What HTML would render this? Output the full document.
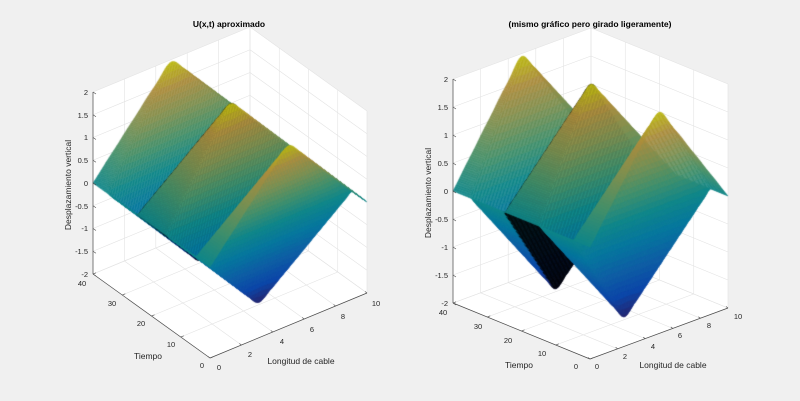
<!DOCTYPE html>
<html><head><meta charset="utf-8"><style>
html,body{margin:0;padding:0;background:#f0f0f0;}
#wrap{position:relative;width:800px;height:401px;overflow:hidden;}
svg,canvas{position:absolute;left:0;top:0;}
text{font-family:"Liberation Sans",Arial,sans-serif;fill:#262626;}
.tk{font-size:7.5px;}
.lb{font-size:8.5px;}
.tt{font-size:8.5px;font-weight:bold;fill:#000;}
</style></head><body><div id="wrap">
<svg id="bg" width="800" height="401"><g id="grid"></g></svg>
<canvas id="cv" width="800" height="401"></canvas>
<svg id="fg" width="800" height="401"><g id="axes"></g>
<text class="tt" x="229" y="27" text-anchor="middle">U(x,t) aproximado</text>
<text class="tk" x="88" y="95" text-anchor="end">2</text>
<text class="tk" x="88" y="118" text-anchor="end">1.5</text>
<text class="tk" x="88" y="140" text-anchor="end">1</text>
<text class="tk" x="88" y="163" text-anchor="end">0.5</text>
<text class="tk" x="88" y="186" text-anchor="end">0</text>
<text class="tk" x="88" y="209" text-anchor="end">-0.5</text>
<text class="tk" x="88" y="231" text-anchor="end">-1</text>
<text class="tk" x="88" y="254" text-anchor="end">-1.5</text>
<text class="tk" x="88" y="277" text-anchor="end">-2</text>
<text class="tk" x="82" y="286" text-anchor="middle">40</text>
<text class="tk" x="112" y="306" text-anchor="middle">30</text>
<text class="tk" x="141" y="326" text-anchor="middle">20</text>
<text class="tk" x="171" y="347" text-anchor="middle">10</text>
<text class="tk" x="202" y="368" text-anchor="middle">0</text>
<text class="tk" x="219" y="370" text-anchor="middle">0</text>
<text class="tk" x="250" y="357" text-anchor="middle">2</text>
<text class="tk" x="282" y="344" text-anchor="middle">4</text>
<text class="tk" x="312" y="332" text-anchor="middle">6</text>
<text class="tk" x="343" y="319" text-anchor="middle">8</text>
<text class="tk" x="376" y="306" text-anchor="middle">10</text>
<text class="lb" x="148" y="359" text-anchor="middle">Tiempo</text>
<text class="lb" x="301" y="364" text-anchor="middle">Longitud de cable</text>
<text class="lb" transform="translate(71,185) rotate(-90)" text-anchor="middle">Desplazamiento vertical</text>

<text class="tt" x="590" y="27" text-anchor="middle">(mismo gráfico pero girado ligeramente)</text>
<text class="tk" x="448" y="82" text-anchor="end">2</text>
<text class="tk" x="448" y="110" text-anchor="end">1.5</text>
<text class="tk" x="448" y="138" text-anchor="end">1</text>
<text class="tk" x="448" y="166" text-anchor="end">0.5</text>
<text class="tk" x="448" y="194" text-anchor="end">0</text>
<text class="tk" x="448" y="222" text-anchor="end">-0.5</text>
<text class="tk" x="448" y="250" text-anchor="end">-1</text>
<text class="tk" x="448" y="278" text-anchor="end">-1.5</text>
<text class="tk" x="448" y="306" text-anchor="end">-2</text>
<text class="tk" x="443" y="315" text-anchor="middle">40</text>
<text class="tk" x="478" y="329" text-anchor="middle">30</text>
<text class="tk" x="508" y="343" text-anchor="middle">20</text>
<text class="tk" x="542" y="356" text-anchor="middle">10</text>
<text class="tk" x="576" y="369" text-anchor="middle">0</text>
<text class="tk" x="597" y="369" text-anchor="middle">0</text>
<text class="tk" x="625" y="359" text-anchor="middle">2</text>
<text class="tk" x="653" y="349" text-anchor="middle">4</text>
<text class="tk" x="680" y="338" text-anchor="middle">6</text>
<text class="tk" x="709" y="328" text-anchor="middle">8</text>
<text class="tk" x="738" y="319" text-anchor="middle">10</text>
<text class="lb" x="519" y="368" text-anchor="middle">Tiempo</text>
<text class="lb" x="673" y="368" text-anchor="middle">Longitud de cable</text>
<text class="lb" transform="translate(431,193) rotate(-90)" text-anchor="middle">Desplazamiento vertical</text>
</svg>
</div>
<script>
var P=[{ox:210,oy:358,ex:[157,-65],et:[-117,-84],H:182},{ox:590,oy:359,ex:[138,-51],et:[-137,-56],H:224}];
function pr(p,x,t,z){var a=x/10,b=t/40,c=(z+2)/4;return [p.ox+a*p.ex[0]+b*p.et[0],p.oy+a*p.ex[1]+b*p.et[1]-c*p.H];}
var NS="http://www.w3.org/2000/svg";
function ln(g,a,b,col,w){var l=document.createElementNS(NS,"line");l.setAttribute("x1",a[0]);l.setAttribute("y1",a[1]);l.setAttribute("x2",b[0]);l.setAttribute("y2",b[1]);l.setAttribute("stroke",col);l.setAttribute("stroke-width",w);g.appendChild(l);}
var grid=document.getElementById("grid"),axes=document.getElementById("axes");
P.forEach(function(p){
 var pts=[pr(p,0,40,-2),pr(p,0,40,2),pr(p,10,40,2),pr(p,10,0,2),pr(p,10,0,-2),pr(p,0,0,-2)];
 var pg=document.createElementNS(NS,"polygon");pg.setAttribute("points",pts.map(function(q){return q.join(",")}).join(" "));pg.setAttribute("fill","#fff");grid.appendChild(pg);
 var gc="#e3e3e3";
 for(var x=0;x<=10;x+=2){ln(grid,pr(p,x,40,-2),pr(p,x,40,2),gc,0.6);ln(grid,pr(p,x,0,-2),pr(p,x,40,-2),gc,0.6);}
 for(var t=0;t<=40;t+=10){ln(grid,pr(p,10,t,-2),pr(p,10,t,2),gc,0.6);ln(grid,pr(p,0,t,-2),pr(p,10,t,-2),gc,0.6);}
 for(var z=-2;z<=2;z+=0.5){ln(grid,pr(p,0,40,z),pr(p,10,40,z),gc,0.6);ln(grid,pr(p,10,40,z),pr(p,10,0,z),gc,0.6);}
 var ac="#4a4a4a";
 ln(axes,pr(p,0,40,-2),pr(p,0,40,2),ac,0.7);ln(axes,pr(p,0,0,-2),pr(p,0,40,-2),ac,0.7);ln(axes,pr(p,0,0,-2),pr(p,10,0,-2),ac,0.7);
 for(var z=-2;z<=2;z+=0.5){var a=pr(p,0,40,z);ln(axes,a,[a[0]+3,a[1]+2],ac,0.6);}
 for(var t=0;t<=40;t+=10){var a=pr(p,0,t,-2);ln(axes,a,[a[0]+3,a[1]-1.2],ac,0.6);}
 for(var x=0;x<=10;x+=2){var a=pr(p,x,0,-2);ln(axes,a,[a[0]-2,a[1]-1.5],ac,0.6);}
});
function u(x,t){var s=0;for(var n=1;n<=15;n+=2){var b=16/(n*n*Math.PI*Math.PI)*Math.sin(n*Math.PI/2);s+=b*Math.sin(n*Math.PI*x/10)*Math.cos(n*Math.PI*t/10);}return s;}
var cm=[[53,42,135],[15,92,221],[18,125,216],[7,156,207],[21,177,180],[89,189,140],[165,190,107],[225,185,82],[249,251,14]];
function col(z,k){var v=Math.max(0,Math.min(1,(z+2)/4))*8,i=Math.min(7,Math.floor(v)),f=v-i,a=cm[i],b=cm[i+1];return "rgb("+Math.round((a[0]+(b[0]-a[0])*f)*k)+","+Math.round((a[1]+(b[1]-a[1])*f)*k)+","+Math.round((a[2]+(b[2]-a[2])*f)*k)+")";}
function ss(a,b,x){var t=Math.max(0,Math.min(1,(x-a)/(b-a)));return t*t*(3-2*t);}
var ctx=document.getElementById("cv").getContext("2d");
var NX=100,NT=140;
var Z=[];for(var j=0;j<=NT;j++){Z[j]=[];for(var i=0;i<=NX;i++)Z[j][i]=u(i*10/NX,j*40/NT);}
var dT=40/NT;
P.forEach(function(p){
 var dx=-p.et[0]*p.H, dt=p.ex[0]*p.H, dz=p.ex[0]*p.et[1]-p.et[0]*p.ex[1];
 var q=[];
 for(var j=0;j<NT;j++)for(var i=0;i<NX;i++){var zc=(Z[j][i]+Z[j][i+1]+Z[j+1][i]+Z[j+1][i+1])/4;var xn=(i+0.5)/NX,tn=(j+0.5)/NT,zn=(zc+2)/4;q.push([dx*xn+dt*tn+dz*zn,i,j,zc]);}
 q.sort(function(a,b){return b[0]-a[0];});
 ctx.lineJoin="round";
 q.forEach(function(e){var i=e[1],j=e[2];
  var a=pr(p,i*10/NX,j*40/NT,Z[j][i]),b=pr(p,(i+1)*10/NX,j*40/NT,Z[j][i+1]),c=pr(p,(i+1)*10/NX,(j+1)*40/NT,Z[j+1][i+1]),d=pr(p,i*10/NX,(j+1)*40/NT,Z[j+1][i]);
  var dudt=((Z[j+1][i]+Z[j+1][i+1])-(Z[j][i]+Z[j][i+1]))/(2*dT);
  var tt=(j+0.5)*dT;
  var dark=(tt>10.5)?ss(-0.03,-0.12,dudt):0;
  var k=0.76-0.7*dark;
  ctx.beginPath();ctx.moveTo(a[0],a[1]);ctx.lineTo(b[0],b[1]);ctx.lineTo(c[0],c[1]);ctx.lineTo(d[0],d[1]);ctx.closePath();
  var cs=col(e[3],k);ctx.fillStyle=cs;ctx.strokeStyle=cs;ctx.lineWidth=0.4;ctx.fill();ctx.stroke();});
});
</script>
</body></html>
